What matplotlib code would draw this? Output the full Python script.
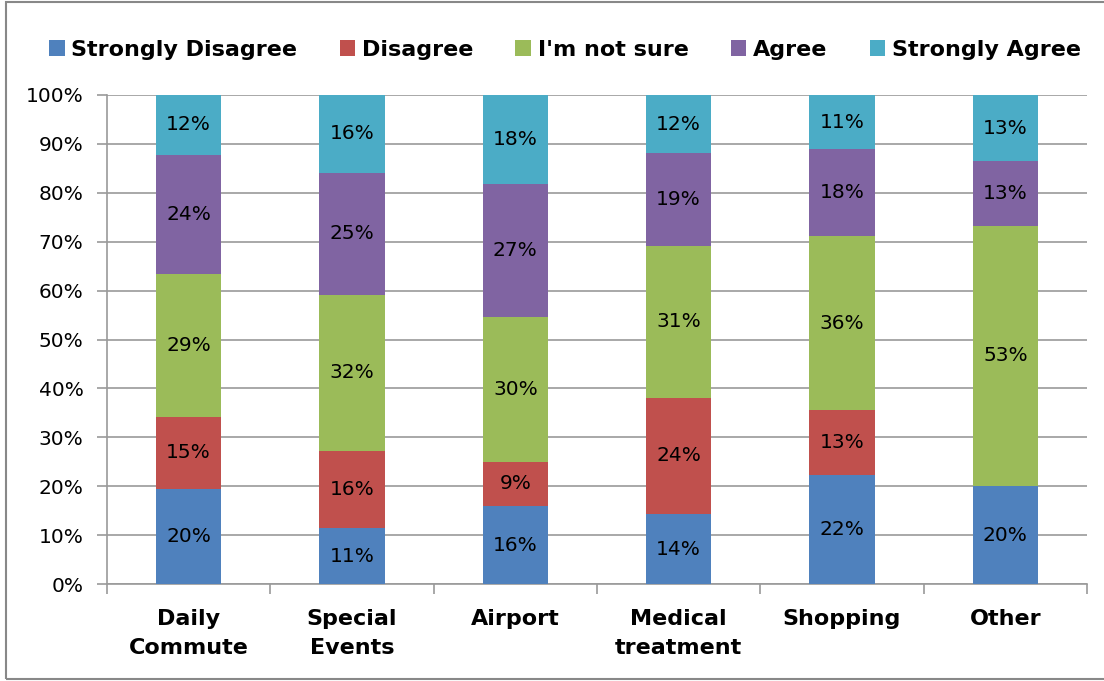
import numpy as np
import matplotlib.pyplot as plt
from matplotlib.patches import Rectangle

categories = ["Daily\nCommute", "Special\nEvents", "Airport", "Medical\ntreatment", "Shopping", "Other"]
series = ["Strongly Disagree", "Disagree", "I'm not sure", "Agree", "Strongly Agree"]
strongly_disagree = [19.5, 11.4, 15.9, 14.3, 22.2, 20.0]
disagree = [14.6, 15.9, 9.1, 23.8, 13.3, 0.0]
not_sure = [29.3, 31.8, 29.5, 31.0, 35.6, 53.3]
agree = [24.4, 25.0, 27.3, 19.0, 17.8, 13.3]
strongly_agree = [12.2, 15.9, 18.2, 11.9, 11.1, 13.3]
colors = ["#4F81BD", "#C0504D", "#9BBB59", "#8064A2", "#4BACC6"]

plt.rcParams['font.family'] = ['DejaVu Sans']

fig = plt.figure(figsize=(11.04, 6.81), dpi=100)
ax = fig.add_axes([107/1104, 1-584/681, (1087-107)/1104, (584-95)/681])

x = np.arange(len(categories))
bottom = np.zeros(len(categories))
data = [strongly_disagree, disagree, not_sure, agree, strongly_agree]
for name, vals, c in zip(series, data, colors):
    vals = np.array(vals)
    ax.bar(x, vals, 0.4, bottom=bottom, color=c, label=name, zorder=3)
    for xi, b, v in zip(x, bottom, vals):
        if v > 0:
            ax.text(xi, b + v/2, f"{v:.0f}%", ha='center', va='center', fontsize=14.5, zorder=4)
    bottom += vals

ax.set_xlim(-0.5, len(categories) - 0.5)
ax.set_ylim(0, 100)
ax.set_yticks(np.arange(0, 101, 10))
ax.set_yticklabels([f"{v}%" for v in range(0, 101, 10)], fontsize=14.5)
ax.yaxis.grid(True, color='#9A9A9A', linewidth=1.2, zorder=0)
ax.set_xticks(x)
ax.set_xticklabels(categories, fontsize=16, fontweight='bold', linespacing=1.55)
ax.tick_params(axis='x', length=0, pad=18)
ax.set_xticks(np.arange(-0.5, len(categories)), minor=True)
ax.tick_params(axis='x', which='minor', length=7, color='#9A9A9A', width=1.2)
ax.tick_params(axis='y', length=7, color='#9A9A9A', width=1.2, pad=10)
for s in ['top', 'right']:
    ax.spines[s].set_visible(False)
for s in ['left', 'bottom']:
    ax.spines[s].set_color('#9A9A9A')
    ax.spines[s].set_linewidth(1.2)

leg = fig.legend(loc='center', bbox_to_anchor=(565/1104, 1-50/681), ncol=5, frameon=False,
                 handlelength=0.7, handleheight=0.7, handletextpad=0.3, columnspacing=1.9,
                 prop={'size': 16, 'weight': 'bold'})

fig.patches.append(Rectangle((6/1104, 2/681), 1.1, 677/681, transform=fig.transFigure,
                             fill=False, edgecolor='#888888', linewidth=1.5))

fig.savefig("out.png", dpi=100)
